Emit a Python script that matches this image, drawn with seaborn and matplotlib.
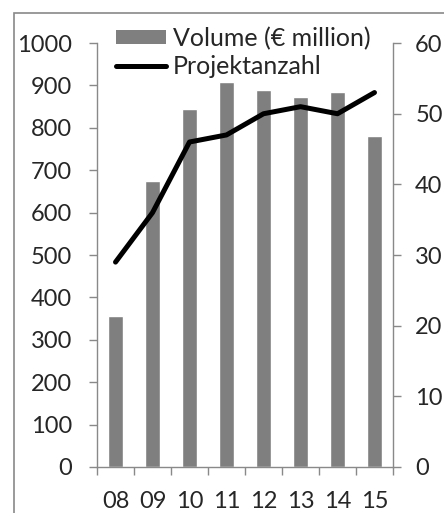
import matplotlib
matplotlib.use("Agg")
import matplotlib.pyplot as plt
from matplotlib.lines import Line2D
from matplotlib.patches import Patch, Rectangle
import seaborn as sns
import pandas as pd

years = ["08", "09", "10", "11", "12", "13", "14", "15"]
volume = [356, 675, 845, 909, 889, 874, 885, 781]
projects = [29, 36, 46, 47, 50, 51, 50, 53]

df = pd.DataFrame({"year": years, "volume": volume, "projects": projects})

sns.set_theme(style="white")
plt.rcParams["font.family"] = ["Lato", "DejaVu Sans"]

grey = "#7f7f7f"
spine = "#898989"
fs = 18
tfs = 17

fig = plt.figure(figsize=(4.44, 5.13), dpi=100)
ax = fig.add_axes([0.2185, 0.0897, 0.8851 - 0.2185, 0.916 - 0.0897])

sns.barplot(data=df, x="year", y="volume", color=grey, width=0.43,
            saturation=1, ax=ax)
ax.set_ylim(0, 1000)
ax.set_xlim(-0.5, 7.5)
ax.set_yticks(range(0, 1001, 100))
ax.set_xlabel("")
ax.set_ylabel("")

ax2 = ax.twinx()
sns.lineplot(data=df, x="year", y="projects", color="black", linewidth=3.6,
             sort=False, ax=ax2, solid_capstyle="round", solid_joinstyle="round")
ax2.set_ylim(0, 60)
ax2.set_yticks(range(0, 61, 10))
ax2.set_ylabel("")
ax2.set_xlim(-0.5, 7.5)

for a in (ax, ax2):
    for s in a.spines.values():
        s.set_visible(False)

ax.spines["left"].set_visible(True)
ax.spines["bottom"].set_visible(True)
ax2.spines["right"].set_visible(True)
for s in (ax.spines["left"], ax.spines["bottom"], ax2.spines["right"]):
    s.set_color(spine)
    s.set_linewidth(1.0)

# category labels at centres, tick marks at boundaries
ax.set_xticks(range(len(years)))
ax.set_xticklabels(years)
ax.set_xticks([i - 0.5 for i in range(len(years) + 1)], minor=True)
ax.tick_params(axis="x", which="major", length=0, pad=17, labelsize=tfs)
ax.tick_params(axis="x", which="minor", length=6, width=1, color=spine,
               direction="out", bottom=True)
ax.tick_params(axis="y", length=6, width=1, color=spine, direction="out",
               left=True, pad=12, labelsize=tfs)
ax2.tick_params(axis="y", length=6, width=1, color=spine, direction="out",
                right=True, pad=10, labelsize=tfs)

handles = [Patch(facecolor=grey, edgecolor="none"),
           Line2D([0], [0], color="black", linewidth=3.6, solid_capstyle="round")]
fig.legend(handles, ["Volume (€ million)", "Projektanzahl"],
           loc="upper left", bbox_to_anchor=(0.262, 0.948), frameon=False,
           fontsize=fs, handlelength=2.0, handleheight=0.48,
           handletextpad=0.25, labelspacing=0.2, borderpad=0, borderaxespad=0)

# outer chart frame
fig.patches.append(Rectangle((14 / 444, -0.1), 1.2, 0.1 + (513 - 13) / 513,
                             transform=fig.transFigure, fill=False,
                             edgecolor=spine, linewidth=1.2))

fig.savefig("out.png", dpi=100)
